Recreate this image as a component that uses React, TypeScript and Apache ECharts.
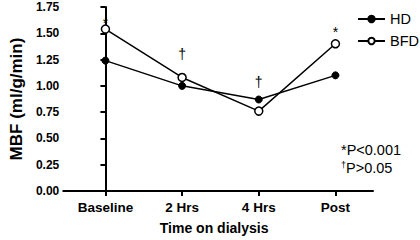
import React, { useEffect, useRef } from "react";
import * as echarts from "echarts";

const categories = ["Baseline", "2 Hrs", "4 Hrs", "Post"];
const hdValues = [1.24, 1.0, 0.87, 1.1];
const bfdValues = [1.54, 1.08, 0.76, 1.4];
const annotationMarks = ["*", "†", "†", "*"];
const annotationLevels = [1.6, 1.3, 1.04, 1.51];
const yTicks = [0, 0.25, 0.5, 0.75, 1.0, 1.25, 1.5, 1.75];

const FONT = "Liberation Sans, Arial, Helvetica, sans-serif";

export default function App() {
  const ref = useRef<HTMLDivElement>(null);
  useEffect(() => {
    if (!ref.current) return;
    const chart = echarts.init(ref.current, undefined, { renderer: "svg" });
    const idx = categories.map((_, i) => i);
    chart.setOption({
      animation: false,
      backgroundColor: "#ffffff",
      textStyle: { fontFamily: FONT, color: "#000" },
      grid: { left: 54, right: 47, top: 7, bottom: 45.5, containLabel: false },
      legend: {
        left: 357,
        top: 11,
        padding: 0,
        orient: "vertical",
        itemWidth: 27,
        itemHeight: 8,
        itemGap: 6,
        textStyle: { fontFamily: FONT, fontSize: 14.5, lineHeight: 16, color: "#000" },
        data: ["HD", "BFD"],
      },
      xAxis: {
        type: "value",
        min: -0.55,
        max: 3.49,
        name: "Time on dialysis",
        nameLocation: "middle",
        nameGap: 30,
        nameTextStyle: { fontFamily: FONT, fontSize: 14, fontWeight: "bold", color: "#000", padding: [0, 8, 0, 0] },
        splitLine: { show: false },
        axisLine: { show: true, lineStyle: { color: "#000", width: 2 } },
        axisTick: { show: true, customValues: idx, length: 5, lineStyle: { color: "#000", width: 2 } },
        axisLabel: {
          customValues: idx,
          formatter: (v: number) => categories[Math.round(v)] ?? "",
          fontFamily: FONT,
          fontSize: 13.5,
          fontWeight: "bold",
          color: "#000",
          margin: 9,
        },
      },
      yAxis: {
        type: "value",
        min: 0,
        max: 1.75,
        interval: 0.25,
        name: "MBF (ml/g/min)",
        nameLocation: "middle",
        nameGap: 38,
        nameTextStyle: { fontFamily: FONT, fontSize: 17, fontWeight: "bold", color: "#000" },
        splitLine: { show: false },
        axisLine: { show: true, lineStyle: { color: "#000", width: 2 } },
        axisTick: { show: true, length: 5, lineStyle: { color: "#000", width: 2 } },
        axisLabel: {
          formatter: (v: number) => (yTicks.includes(v) ? v.toFixed(2) : ""),
          fontFamily: FONT,
          fontSize: 12,
          fontWeight: "bold",
          color: "#000",
          margin: 4,
        },
      },
      series: [
        {
          name: "HD",
          type: "line",
          data: hdValues.map((v, i) => [i, v]),
          symbol: "circle",
          symbolSize: 7,
          itemStyle: { color: "#000", borderColor: "#000", borderWidth: 1 },
          lineStyle: { color: "#000", width: 1.5 },
          z: 3,
          markPoint: {
            silent: true,
            symbol: "circle",
            symbolSize: 1,
            itemStyle: { color: "rgba(0,0,0,0)" },
            label: {
              show: true,
              position: "inside",
              formatter: "{b}",
              fontFamily: FONT,
              fontSize: 14,
              color: "#000",
              textBorderWidth: 0,
            },
            data: annotationLevels.map((v, i) => ({
              name: annotationMarks[i],
              coord: [i, v],
            })),
          },
        },
        {
          name: "BFD",
          type: "line",
          data: bfdValues.map((v, i) => [i, v]),
          symbol: "circle",
          symbolSize: 8,
          itemStyle: { color: "#fff", borderColor: "#000", borderWidth: 1.5 },
          lineStyle: { color: "#000", width: 1.5 },
          z: 4,
        },
      ],
      graphic: [
        {
          type: "text",
          left: 341,
          top: 142,
          style: {
            text: "*P<0.001",
            font: `14.5px ${FONT}`,
            fill: "#000",
          },
        },
        {
          type: "text",
          left: 341,
          top: 160,
          style: {
            text: "{s|†}P>0.05",
            font: `14.5px ${FONT}`,
            fill: "#000",
            rich: {
              s: { fontSize: 9, verticalAlign: "top", fontFamily: FONT, fill: "#000", padding: [0, 0, 5, 0] },
            },
          },
        },
      ],
    });
    return () => chart.dispose();
  }, []);
  return (
    <div
      ref={ref}
      style={{ position: "fixed", left: 0, top: 0, width: 420, height: 240, background: "#fff" }}
    />
  );
}
